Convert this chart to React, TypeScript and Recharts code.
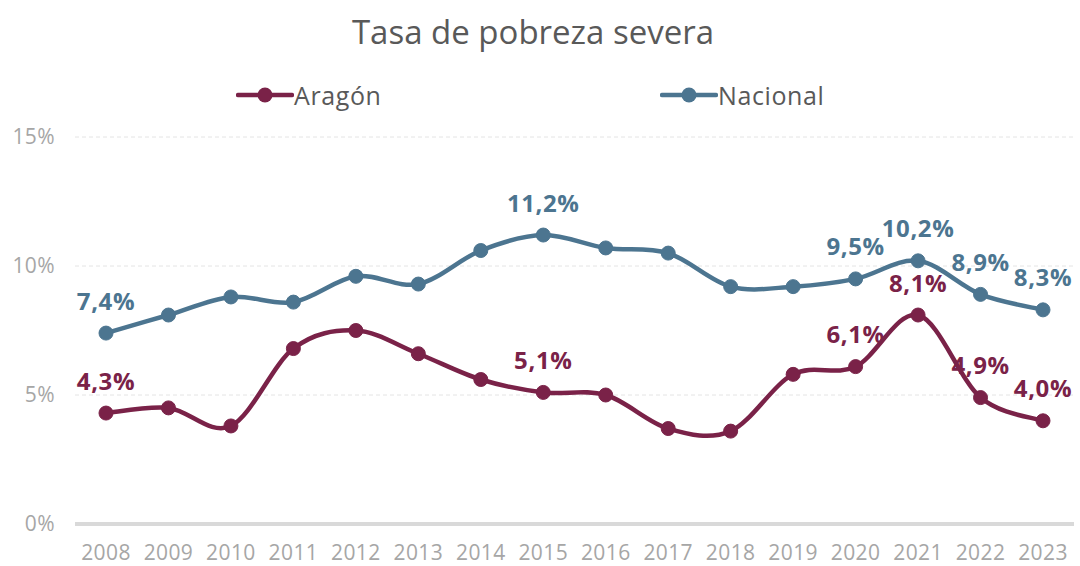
import React from 'react';
import { LineChart, Line, XAxis, YAxis, CartesianGrid, LabelList } from 'recharts';

const years = ['2008', '2009', '2010', '2011', '2012', '2013', '2014', '2015', '2016', '2017', '2018', '2019', '2020', '2021', '2022', '2023'];
const aragon = [4.3, 4.5, 3.8, 6.8, 7.5, 6.6, 5.6, 5.1, 5.0, 3.7, 3.6, 5.8, 6.1, 8.1, 4.9, 4.0];
const nacional = [7.4, 8.1, 8.8, 8.6, 9.6, 9.3, 10.6, 11.2, 10.7, 10.5, 9.2, 9.2, 9.5, 10.2, 8.9, 8.3];
const labeledYears = ['2008', '2015', '2020', '2021', '2022', '2023'];
const yTicks = [0, 5, 10, 15];

const data = years.map((year, i) => ({ year, aragon: aragon[i], nacional: nacional[i] }));

const ARAGON = '#7a2248';
const NACIONAL = '#4c7590';
const FONT = '"Open Sans", Roboto, sans-serif';

// Excel-style smoothed line (Catmull-Rom through the points)
const excelSmooth = (context: any) => {
  let pts: [number, number][] = [];
  return {
    areaStart() {},
    areaEnd() {},
    lineStart() {
      pts = [];
    },
    lineEnd() {
      if (!pts.length) return;
      context.moveTo(pts[0][0], pts[0][1]);
      for (let i = 0; i < pts.length - 1; i++) {
        const p0 = pts[Math.max(0, i - 1)];
        const p1 = pts[i];
        const p2 = pts[i + 1];
        const p3 = pts[Math.min(pts.length - 1, i + 2)];
        context.bezierCurveTo(
          p1[0] + (p2[0] - p0[0]) / 6,
          p1[1] + (p2[1] - p0[1]) / 6,
          p2[0] - (p3[0] - p1[0]) / 6,
          p2[1] - (p3[1] - p1[1]) / 6,
          p2[0],
          p2[1]
        );
      }
    },
    point(x: number, y: number) {
      pts.push([+x, +y]);
    },
  };
};

const fmt = (v: number) => v.toFixed(1).replace('.', ',') + '%';

const makeLabel = (color: string) => (props: any) => {
  const { x, y, value, index } = props;
  if (!labeledYears.includes(years[index])) return null;
  return (
    <text x={x} y={y - 33} textAnchor="middle" dominantBaseline="central" fill={color} fontSize={24} fontWeight={700} fontFamily={FONT} letterSpacing={0.6}>
      {fmt(value)}
    </text>
  );
};

function LegendItem({ color, label, left }: { color: string; label: string; left: number }) {
  return (
    <div style={{ position: 'absolute', left, top: 80, height: 30, display: 'flex', alignItems: 'center' }}>
      <svg width={58} height={30}>
        <line x1={2} y1={15} x2={56} y2={15} stroke={color} strokeWidth={4.5} strokeLinecap="round" />
        <circle cx={29} cy={15} r={7.5} fill={color} />
      </svg>
      <span style={{ fontSize: 25, color: '#595959', letterSpacing: 0.6 }}>{label}</span>
    </div>
  );
}

const tickStyle = { fill: '#a6a6a6', fontSize: 21, fontFamily: FONT, letterSpacing: 0.4 };

export default function App() {
  return (
    <div style={{ position: 'absolute', left: 0, top: 0, width: 1080, height: 566, background: '#fff', fontFamily: FONT }}>
      <div style={{ position: 'absolute', left: 0, top: 9, width: 1066, textAlign: 'center', fontSize: 33, color: '#595959' }}>
        Tasa de pobreza severa
      </div>
      <LegendItem color={ARAGON} label="Aragón" left={236} />
      <LegendItem color={NACIONAL} label="Nacional" left={660} />
      <LineChart width={1080} height={566} data={data} margin={{ top: 137, right: 6, bottom: 0, left: 0 }}>
        <CartesianGrid vertical={false} stroke="#e4e4e4" strokeDasharray="4 3" />
        <XAxis
          dataKey="year"
          padding={{ left: 31, right: 31 }}
          axisLine={{ stroke: '#d9d9d9', strokeWidth: 4 }}
          tickLine={false}
          tickSize={0}
          tickMargin={21}
          height={42}
          tick={tickStyle}
        />
        <YAxis
          domain={[0, 15]}
          ticks={yTicks}
          axisLine={false}
          tickLine={false}
          tickSize={0}
          tickMargin={20}
          width={75}
          tickFormatter={(v) => `${v}%`}
          tick={tickStyle}
        />
        <Line
          dataKey="nacional"
          type={excelSmooth as any}
          stroke={NACIONAL}
          strokeWidth={4.5}
          dot={{ r: 7, fill: NACIONAL, stroke: NACIONAL, strokeWidth: 1 }}
          activeDot={false}
          isAnimationActive={false}
        >
          <LabelList dataKey="nacional" content={makeLabel(NACIONAL)} />
        </Line>
        <Line
          dataKey="aragon"
          type={excelSmooth as any}
          stroke={ARAGON}
          strokeWidth={4.5}
          dot={{ r: 7, fill: ARAGON, stroke: ARAGON, strokeWidth: 1 }}
          activeDot={false}
          isAnimationActive={false}
        >
          <LabelList dataKey="aragon" content={makeLabel(ARAGON)} />
        </Line>
      </LineChart>
    </div>
  );
}
